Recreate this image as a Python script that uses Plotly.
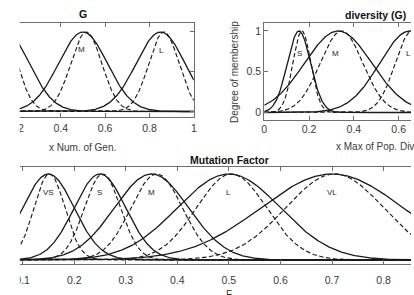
import numpy as np
import plotly.graph_objects as go

W, H = 414, 295

# ---------------- data ----------------
# Panel "G" : x Num. of Gen.
g_labels = ["S", "M", "L"]
g_upper_center = [0.15, 0.50, 0.85]
g_upper_sigma = [0.108, 0.110, 0.110]
g_lower_center = [0.14, 0.515, 0.865]
g_lower_sigma = [0.065, 0.070, 0.068]
g_label_x = [None, 0.4925, 0.854]
g_label_y = [None, 0.786, 0.761]
g_ticks = [0.2, 0.4, 0.6, 0.8, 1.0]
g_ticktext = ["0.2", "0.4", "0.6", "0.8", "1"]

# Panel "diversity (G)" : x Max of Pop. Diversity
d_labels = ["S", "M", "L"]
d_upper_center = [0.155, 0.33, 0.65]
d_upper_sigma = [0.052, 0.150, 0.135]
d_lower_center = [0.168, 0.345, 0.66]
d_lower_sigma = [0.040, 0.095, 0.075]
d_label_x = [0.157, 0.319, 0.646]
d_label_y = [0.73, 0.73, 0.73]
d_xticks = [0, 0.2, 0.4, 0.6]
d_xticktext = ["0", "0.2", "0.4", "0.6"]
d_yticks = [0, 0.5, 1]
d_yticktext = ["0", "0.5", "1"]

# Panel "Mutation Factor" : F
f_labels = ["VS", "S", "M", "L", "VL"]
f_upper_center = [0.15, 0.25, 0.35, 0.50, 0.70]
f_upper_sigma = [0.050, 0.050, 0.072, 0.100, 0.138]
f_lower_center = [0.152, 0.255, 0.36, 0.505, 0.705]
f_lower_sigma = [0.030, 0.035, 0.050, 0.068, 0.095]
f_label_y = [0.78, 0.78, 0.78, 0.78, 0.78]
f_ticks = [0.1, 0.2, 0.3, 0.4, 0.5, 0.6, 0.7, 0.8]
f_ticktext = ["0.1", "0.2", "0.3", "0.4", "0.5", "0.6", "0.7", "0.8"]

# ---------------- helpers ----------------
def px_x(p):
    return p / W

def px_y(p):
    return 1 - p / H

def gauss(x, c, s):
    return np.exp(-((x - c) ** 2) / (2 * s ** 2))

LINE = "#1a1a1a"
FRAME = "#6f6f6f"
TICKC = "#3a3a3a"
FONT = "Liberation Sans, Arial, sans-serif"

fig = go.Figure()

def add_set(xs, uc, us, lc, ls, xa, ya):
    for c, s in zip(uc, us):
        fig.add_trace(go.Scatter(x=xs, y=gauss(xs, c, s), mode="lines",
                                 line=dict(color=LINE, width=1.3),
                                 xaxis=xa, yaxis=ya, showlegend=False,
                                 hoverinfo="skip"))
    for c, s in zip(lc, ls):
        fig.add_trace(go.Scatter(x=xs, y=gauss(xs, c, s), mode="lines",
                                 line=dict(color=LINE, width=1.15, dash="4.5px,2.5px"),
                                 xaxis=xa, yaxis=ya, showlegend=False,
                                 hoverinfo="skip"))

xg = np.linspace(0.0, 1.0, 600)
add_set(xg, g_upper_center, g_upper_sigma, g_lower_center, g_lower_sigma, "x", "y")
xd = np.linspace(0.0, 1.0, 600)
add_set(xd, d_upper_center, d_upper_sigma, d_lower_center, d_lower_sigma, "x2", "y2")
xf = np.linspace(0.0, 1.0, 800)
add_set(xf, f_upper_center, f_upper_sigma, f_lower_center, f_lower_sigma, "x3", "y3")

tickfont = dict(family=FONT, size=10.5, color=TICKC)
common_x = dict(showgrid=False, zeroline=False, showline=True, linecolor=FRAME,
                linewidth=1, ticks="inside", ticklen=4, tickcolor=FRAME,
                tickfont=tickfont, mirror="ticks")
common_y = dict(showgrid=False, zeroline=False, ticks="inside", ticklen=4,
                tickcolor=FRAME, linecolor=FRAME, linewidth=1, tickfont=tickfont)

# Panel G geometry: 0.4 at 56px, 1.0 at 192px
g_ppu = (192 - 56) / 0.6
g_x0_px = 56 - 0.2 * g_ppu  # px of value 0.2
g_left_val = 0.195
g_left_px = g_x0_px + (g_left_val - 0.2) * g_ppu

fig.update_layout(
    width=W, height=H, margin=dict(l=0, r=0, t=0, b=0),
    paper_bgcolor="white", plot_bgcolor="white", hovermode=False,
    xaxis=dict(domain=[px_x(g_left_px), px_x(192)], range=[g_left_val, 1.0],
               tickvals=g_ticks, ticktext=g_ticktext, anchor="y",
               ticklabelstandoff=1, **common_x),
    yaxis=dict(domain=[px_y(117), px_y(23)], range=[-0.069, 1.113],
               side="right", showline=True, mirror=False,
               tickvals=[0, 0.5, 1], showticklabels=False, anchor="x", **common_y),
    xaxis2=dict(domain=[px_x(264), 1.0], range=[0, (414 - 264) / 229.0],
                tickvals=d_xticks, ticktext=d_xticktext, anchor="y2",
                ticklabelstandoff=-1, **common_x),
    yaxis2=dict(domain=[px_y(120), px_y(23)], range=[-0.092, 1.098],
                showline=True, mirror=False, tickvals=d_yticks,
                ticktext=d_yticktext, anchor="x2", **common_y),
    xaxis3=dict(domain=[px_x(14), 1.0], range=[0.1 - 3 / 527, 0.8 + 28 / 527],
                tickvals=f_ticks, ticktext=f_ticktext, anchor="y3",
                ticklabelstandoff=6, **common_x),
    yaxis3=dict(domain=[px_y(264), px_y(167)], range=[-0.0465, 1.081],
                showline=False, showticklabels=False, ticks="",
                anchor="x3", showgrid=False, zeroline=False),
)

# white cover for the cropped left margin
fig.add_shape(type="rect", xref="paper", yref="paper", x0=0, x1=px_x(14),
              y0=0, y1=1, fillcolor="white", line=dict(width=0), layer="above")

ann = []
lab_font = dict(family=FONT, size=8, color="#1c1c3a")
for t, x, y in zip(g_labels, g_label_x, g_label_y):
    if x is not None:
        ann.append(dict(text=t, x=x, y=y, xref="x", yref="y", showarrow=False,
                        xanchor="center", yanchor="middle", font=lab_font))
for t, x, y in zip(d_labels, d_label_x, d_label_y):
    ann.append(dict(text=t, x=x, y=y, xref="x2", yref="y2", showarrow=False,
                    xanchor="center", yanchor="middle", font=lab_font))
for t, x, y in zip(f_labels, f_upper_center, f_label_y):
    ann.append(dict(text=t, x=x, y=y, xref="x3", yref="y3", showarrow=False,
                    xanchor="center", yanchor="middle", font=lab_font))

title_font = dict(family=FONT, size=10.5, color="#111")
axis_font = dict(family=FONT, size=10, color=TICKC)

def pann(text, x, y, font, xanchor="center", yanchor="middle", angle=0):
    return dict(text=text, x=px_x(x), y=px_y(y), xref="paper", yref="paper",
                xanchor=xanchor, yanchor=yanchor, textangle=angle,
                showarrow=False, font=font)

ann += [
    pann("<b>G</b>", 79, 14, title_font),
    pann("<b>diversity (G)</b>", 378, 15, title_font),
    pann("<b>Mutation Factor</b>", 228, 160, title_font),
    pann("x Num. of Gen.", 78, 147, axis_font),
    pann("x Max of Pop. Diversity", 335, 146, axis_font, xanchor="left"),
    pann("F", 228, 287, axis_font, yanchor="top"),
    pann("Degree of membership", 233, 72, axis_font, angle=-90),
]
fig.update_layout(annotations=ann)

fig.write_html("out.html",
               config={"displayModeBar": False, "staticPlot": True},
               post_script="document.body.style.margin='0px';document.body.style.overflow='hidden';")
